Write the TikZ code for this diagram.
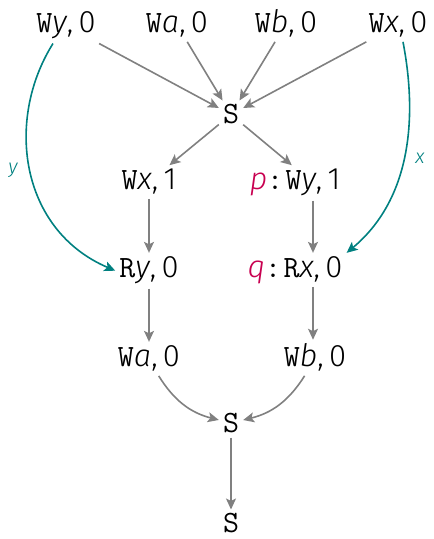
\documentclass[tikz,border=0pt]{standalone}
\usepackage{fontspec}
\newfontfamily\fira{Fira Sans}[UprightFont=* Light, ItalicFont=* Light Italic]
\usetikzlibrary{arrows.meta}
\definecolor{arrgray}{RGB}{128,128,128}
\definecolor{tealc}{RGB}{0,128,128}
\definecolor{redc}{RGB}{200,0,80}
\newcommand{\ev}[3]{{\ttfamily #1}{\fira\itshape #2}{\fira ,\kern0.17em #3}}
\newcommand{\lab}[1]{{\color{redc}\fira\itshape #1}{\ttfamily :}}
\begin{document}
\begin{tikzpicture}[x=1pt,y=1pt,
  font=\fontsize{31}{36}\selectfont,
  ev/.style={inner sep=4pt, anchor=base},
  pre/.style={inner sep=0pt, anchor=base east},
  arr/.style={draw=arrgray, line width=1.6pt, -{Stealth[length=11pt,width=10pt,inset=2.5pt]}},
  dep/.style={draw=tealc, line width=1.6pt, -{Stealth[length=11pt,width=10pt,inset=2.5pt]}},
  deplab/.style={text=tealc, font=\fontsize{20}{22}\selectfont\fira\itshape}]
\useasboundingbox (0,0) rectangle (434,539);
% top row
\node[ev] (wy0) at (66,506) {\ev{W}{y}{0}};
\node[ev] (wa0) at (177,506) {\ev{W}{a}{0}};
\node[ev] (wb0) at (286,506) {\ev{W}{b}{0}};
\node[ev] (wx0) at (398,506) {\ev{W}{x}{0}};
\node[ev] (s1) at (231,415) {\ttfamily S};
% middle
\node[ev] (wx1) at (149,349) {\ev{W}{x}{1}};
\node[ev] (wy1) at (313,349) {\ev{W}{y}{1}};
\node[pre] (p) at ([xshift=2pt]wy1.base west) {\lab{p}};
\node[ev] (ry0) at (149,261) {\ev{R}{y}{0}};
\node[ev] (rx0) at (313,261) {\ev{R}{x}{0}};
\node[pre] (q) at ([xshift=2pt]rx0.base west) {\lab{q}};
\node[ev] (wa1) at (149,172) {\ev{W}{a}{0}};
\node[ev] (wb1) at (315,172) {\ev{W}{b}{0}};
\node[ev] (s2) at (231,106) {\ttfamily S};
\node[ev] (s3) at (231,6) {\ttfamily S};
% gray arrows
\draw[arr] (wy0) -- (s1);
\draw[arr] (wa0) -- (s1);
\draw[arr] (wb0) -- (s1);
\draw[arr] (wx0) -- (s1);
\draw[arr] (s1) -- (wx1);
\draw[arr] (s1) -- (wy1);
\draw[arr] (wx1.south) -- (ry0.north);
\draw[arr] (wy1.south) -- (rx0.north);
\draw[arr] (ry0.south) -- (wa1.north);
\draw[arr] (rx0.south) -- (rx0.south |- wb1.north);
\draw[arr] (wa1) to[bend right=22] (s2);
\draw[arr] (wb1) to[bend left=22] (s2);
\draw[arr] (s2) -- (s3);
% teal dependency arrows
\draw[dep] ([xshift=-13pt]wy0.south) .. controls (5,419) and (20,309) .. (ry0.west);
\draw[dep] ([xshift=5pt]wx0.south) .. controls (418,419) and (410,339) .. (rx0.north east);
\node[deplab] (ylab) at (13,369) {y};
\node[deplab] (xlab) at (420,381) {x};
\end{tikzpicture}
\end{document}
